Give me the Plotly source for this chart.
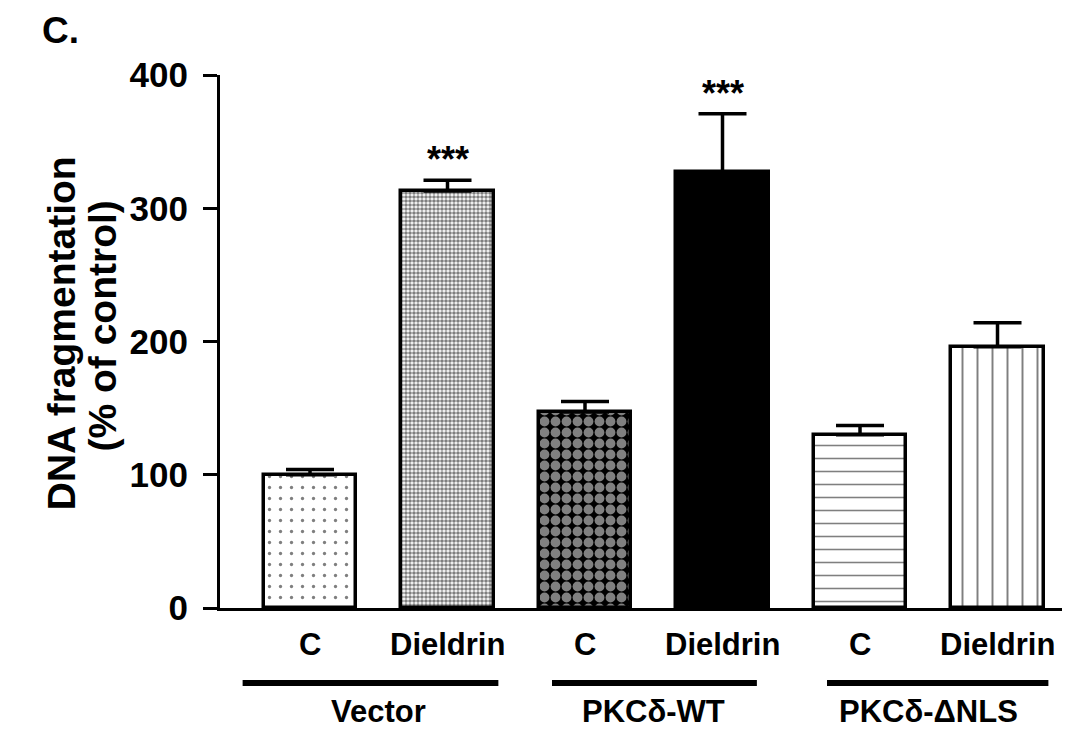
import plotly.graph_objects as go

# DNA fragmentation after dieldrin treatment, by construct
conditions = ["C", "Dieldrin", "C", "Dieldrin", "C", "Dieldrin"]
groups = ["Vector", "PKCδ-WT", "PKCδ-ΔNLS"]
fragmentation = [100, 313, 147, 327, 130, 196]
sem = [4, 8, 8, 44, 7, 18]
significance = ["", "***", "", "***", "", ""]
y_ticks = [0, 100, 200, 300, 400]

FONT = "Liberation Sans, Arial, sans-serif"
x_pos = list(range(len(conditions)))

# fill pattern for each bar
patterns = [
    dict(shape=".", size=11, solidity=0.07, fgcolor="black", bgcolor="white"),
    dict(shape=".", size=4, solidity=0.65, fgcolor="black", bgcolor="white"),
    dict(shape=".", size=11, solidity=0.62, fgcolor="white", bgcolor="black"),
    dict(shape="", fgcolor="black", bgcolor="black"),
    dict(shape="-", size=13, solidity=0.12, fgcolor="black", bgcolor="white"),
    dict(shape="|", size=15, solidity=0.13, fgcolor="black", bgcolor="white"),
]
fills = ["white", "white", "black", "black", "white", "white"]

# horizontal reach of each group underline beyond its outer bar centres
group_pad = [(0.49, 0.37), (0.24, 0.25), (0.24, 0.37)]

fig = go.Figure()
for i in x_pos:
    fig.add_trace(go.Bar(
        x=[x_pos[i]], y=[fragmentation[i]],
        width=0.67,
        marker=dict(color=fills[i], line=dict(color="black", width=3.5),
                    pattern=patterns[i]),
        error_y=dict(type="data", symmetric=False, array=[sem[i]], arrayminus=[0],
                     color="black", thickness=3.5, width=24),
        showlegend=False,
    ))

annotations = []
# significance stars above the error bars
for i in x_pos:
    if significance[i]:
        annotations.append(dict(
            x=x_pos[i], y=fragmentation[i] + sem[i], xref="x", yref="y",
            text=significance[i], showarrow=False, yanchor="bottom", yshift=-2,
            font=dict(family=FONT, size=36, color="black", weight="bold"),
        ))

# condition labels under each bar
for i in x_pos:
    annotations.append(dict(
        x=x_pos[i], y=-0.069, xref="x", yref="paper", text=conditions[i],
        showarrow=False, yanchor="middle",
        font=dict(family=FONT, size=31, color="black", weight="bold"),
    ))

# group underlines and labels
shapes = []
for g, name in enumerate(groups):
    a, b = 2 * g, 2 * g + 1
    shapes.append(dict(type="line", xref="x", yref="paper",
                       x0=a - group_pad[g][0], x1=b + group_pad[g][1],
                       y0=-0.1406, y1=-0.1406,
                       line=dict(color="black", width=6)))
    annotations.append(dict(
        x=(a + b) / 2, y=-0.195, xref="x", yref="paper", text=name,
        showarrow=False, yanchor="middle",
        font=dict(family=FONT, size=31, color="black", weight="bold"),
    ))

# y-axis title on two lines
annotations.append(dict(
    x=-0.188, y=0.515, xref="paper", yref="paper", text="DNA fragmentation",
    textangle=-90, showarrow=False, xanchor="center", yanchor="middle",
    font=dict(family=FONT, size=39, color="black", weight="bold"),
))
annotations.append(dict(
    x=-0.139, y=0.53, xref="paper", yref="paper", text="(% of control)",
    textangle=-90, showarrow=False, xanchor="center", yanchor="middle",
    font=dict(family=FONT, size=39, color="black", weight="bold"),
))

# panel letter
annotations.append(dict(
    x=(40 - 220) / 842, y=(608 - 31) / 533, xref="paper", yref="paper",
    text="C.", showarrow=False, xanchor="left", yanchor="middle",
    font=dict(family=FONT, size=37, color="black", weight="bold"),
))

fig.update_layout(
    width=1080, height=734,
    margin=dict(l=220, r=18, t=75, b=126),
    paper_bgcolor="white", plot_bgcolor="white",
    bargap=0,
    xaxis=dict(range=[-0.6545, 5.469], showline=True, linecolor="black",
               linewidth=3, showticklabels=False, ticks="", showgrid=False,
               zeroline=False, fixedrange=True),
    yaxis=dict(range=[0, 400], tickvals=y_ticks, showline=True, linecolor="black",
               linewidth=3, ticks="outside", ticklen=14, tickwidth=3,
               tickcolor="black", showgrid=False, zeroline=False,
               ticklabelstandoff=8,
               tickfont=dict(family=FONT, size=35, color="black", weight="bold")),
    annotations=annotations,
    shapes=shapes,
)

fig.write_html("out.html")
